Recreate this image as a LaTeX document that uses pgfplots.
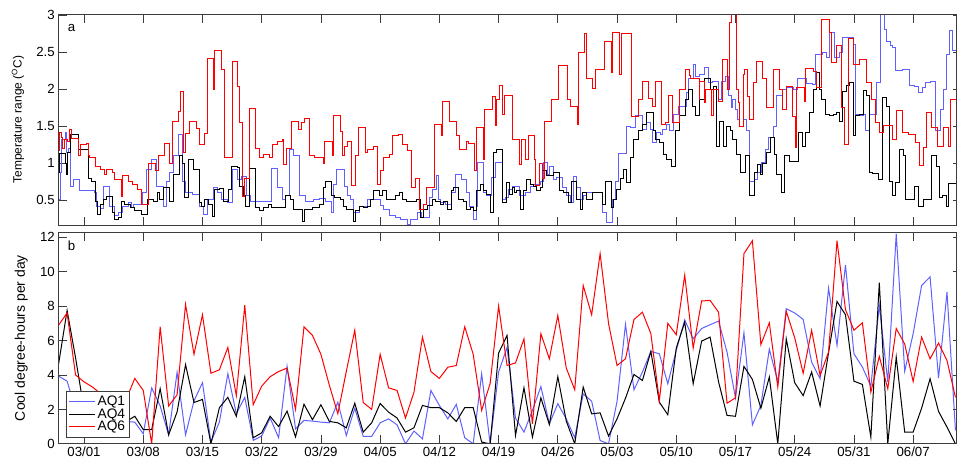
\documentclass[border=0pt]{standalone}
\usepackage{fontspec}
\setmainfont{Liberation Sans}
\usepackage{pgfplots}
\usepackage{pgfplotstable}
\pgfplotsset{compat=1.18}

\definecolor{aqblue}{RGB}{96,96,255}
\definecolor{aqred}{RGB}{255,0,0}
\definecolor{framegray}{RGB}{60,60,60}

% daily cool degree-hours (day 0 = 03/01)
\pgfplotstableread{
d    aqone aqfour aqsix
-3   3.93  4.65  6.9
-2   3.64  7.75  7.6
-1   2.0   5.0   4.0
0    1.5   2.0   3.6
1    1.0   1.0   3.3
2    1.2   1.5   2.9
3    0.8   1.2   1.5
4    1.0   1.0   2.4
5    1.3   1.3   2.6
6    1.26  1.6   3.8
7    0.58  0.83  3.1
8    3.25  0.83  0.0
9    2.2   3.2   6.8
10   0.52  0.52  2.2
11   4.15  1.85  2.85
12   0.52  4.6   8.1
13   2.5   2.4   5.2
14   3.55  2.58  7.5
15   0.1   0.0   4.1
16   1.26  2.1   4.3
17   4.07  2.7   5.6
18   1.75  1.6   2.8
19   2.7   3.9   8.05
20   0.2   0.35  2.27
21   0.45  0.64  3.35
22   1.5   1.6   3.9
23   0.35  1.0   4.2
24   4.5   1.9   4.4
25   0.87  0.4   2.0
26   1.36  2.3   6.8
27   1.32  1.4   6.3
28   1.26  2.27  5.2
29   1.22  1.3   3.4
30   2.42  1.22  1.75
31   0.48  0.93  4.2
32   2.07  2.36  6.6
33   0.43  0.68  2.4
34   0.43  1.22  2.0
35   1.22  2.34  5.2
36   1.45  1.84  3.25
37   1.1   1.5   3.1
38   0.0   0.68  1.5
39   0.74  0.93  3.0
40   0.29  2.23  6.2
41   3.1   2.1   4.2
42   2.23  2.1   3.8
43   1.45  1.8   4.45
44   2.29  1.3   4.55
45   0.35  2.1   6.8
46   0.0   2.1   5.2
47   4.07  0.1   1.94
48   0.0   0.0   3.5
49   4.17  5.27  8.0
50   5.6   6.3   4.55
51   1.5   0.48  4.7
52   0.68  3.26  6.1
53   1.94  0.39  1.16
54   3.33  2.67  6.4
55   1.16  1.12  4.94
56   2.33  3.9   7.46
57   1.45  1.32  4.4
58   0.35  0.0   3.14
59   2.9   3.3   9.2
60   2.48  1.74  7.5
61   0.19  1.8   11.05
62   0.0   0.45  6.98
63   2.46  1.45  4.55
64   6.94  2.65  4.94
65   3.14  4.03  7.22
66   4.17  3.68  7.65
67   5.37  5.37  6.4
68   5.23  2.42  2.5
69   3.49  1.69  7.0
70   5.43  5.56  6.34
71   7.2   7.07  9.8
72   6.1   3.49  5.56
73   6.7   5.97  8.3
74   6.92  6.2   8.33
75   7.13  3.6   7.65
76   5.33  1.65  2.36
77   2.67  1.6   2.67
78   6.45  4.5   11.05
79   1.1   3.74  11.8
80   2.23  2.07  5.76
81   5.5   3.88  7.03
82   3.6   0.0   3.3
83   7.85  6.1   7.7
84   7.6   3.55  6.16
85   7.23  2.8   4.1
86   4.75  4.17  6.6
87   3.78  2.2   3.97
88   9.05  5.3   5.33
89   5.72  8.27  11.8
90   10.4  7.5   7.8
91   5.23  3.64  6.6
92   4.46  3.45  7.03
93   3.35  0.39  3.0
94   8.04  9.36  5.08
95   3.6   0.0   3.2
96   12.2  5.04  6.7
97   4.22  0.68  5.8
98   6.4   0.68  3.62
99   9.2   2.07  6.2
100  9.7   3.78  4.94
101  3.82  1.88  5.85
102  8.82  0.97  4.84
103  0.78  0.0   2.7
}\cdh

\pgfplotsset{
  panel/.style={
    scale only axis, width=898bp, height=211.5bp,
    xmin=-3.04, xmax=103.1,
    xtick={0,7,...,98},
    tick align=inside,
    major tick length=9bp,
    xtick pos=both,
    ytick pos=left,
    axis line style={framegray, line width=0.8bp},
    tick style={framegray, line width=0.8bp},
    tick label style={font=\fontsize{13.3}{15}\selectfont},
    /pgf/number format/assume math mode=true,
    clip=true,
  },
  rightticks/.style={
    scale only axis, width=898bp, height=211.5bp,
    xmin=-3.04, xmax=103.1,
    xtick=\empty,
    tick align=inside,
    major tick length=3bp,
    ytick pos=right,
    yticklabels={},
    axis line style={framegray, line width=0.8bp},
    tick style={framegray, line width=0.8bp},
  },
  aqone/.style={aqblue, line width=1bp},
  aqfour/.style={black, line width=1bp},
  aqsix/.style={aqred, line width=1bp},
}

\begin{document}
\begin{tikzpicture}

% ---------- panel a: temperature range ----------
\begin{axis}[panel,
  at={(58.3bp,-14bp)}, anchor=north west,
  ymin=0.16, ymax=3.015,
  ytick={0.5,1,1.5,2,2.5,3},
  yticklabels={0.5,1,1.5,2,2.5,3},
  xticklabels={},
  ylabel={Temperature range (\textsuperscript{O}C)},
  ylabel style={at={(axis description cs:-0.0449,0.5)}, anchor=center,
                font=\fontsize{12}{14}\selectfont},
]
\addplot[aqone, const plot] coordinates {
(-3.05,0.51) (-2.83,0.87) (-2.64,1.32) (-2.24,1.41) (-2.05,1.14) (-1.85,1.2)
(-1.65,0.69) (-1.26,0.78) (-0.55,0.63) (1.18,0.6) (1.5,0.42) (1.89,0.39)
(2.36,0.69) (3.07,0.42) (3.66,0.29) (4.05,0.33) (4.57,0.42) (5.23,0.47)
(5.63,0.4) (5.9,0.45) (6.93,0.6) (7.4,0.92) (7.99,1.05) (8.58,0.69)
(9.37,0.42) (9.76,0.76) (10.15,0.87) (10.63,1.1) (11.14,1.39) (11.65,0.76)
(12.04,0.61) (12.83,0.58) (13.62,0.42) (14.09,0.31) (14.56,0.51) (15.35,0.67)
(15.74,0.6) (16.25,0.51) (16.92,0.47) (17.55,0.92) (18.1,0.78) (18.61,0.82)
(19.2,0.56) (19.68,0.49) (20.46,0.48) (22.16,0.93) (22.83,0.67) (23.46,0.51)
(23.85,0.56) (24.32,1.19) (24.79,1.1) (25.42,0.56) (26.21,0.49) (27.15,0.51)
(27.78,0.52) (28.57,0.49) (29.24,0.33) (29.52,0.72) (29.83,0.91) (30.82,0.69)
(31.09,0.56) (31.49,0.51) (31.88,0.33) (32.51,0.42) (33.45,0.51) (35.03,0.43)
(35.42,0.38) (36.05,0.29) (36.84,0.27) (37.39,0.24) (38.29,0.18) (38.57,0.24)
(39.47,0.33) (39.87,0.27) (40.85,0.54) (41.24,0.65) (41.64,0.83) (41.95,0.51)
(42.11,0.47) (42.74,0.45) (43.41,0.6) (43.92,0.85) (44.59,0.78) (45.18,0.6)
(45.57,0.42) (46.04,0.24) (46.36,0.42) (46.56,1.01) (47.23,0.6) (47.54,0.56)
(48.13,0.81) (48.64,1.01) (49.41,0.51) (49.8,0.54) (50.2,0.65) (50.61,0.69)
(51.47,0.56) (52.18,0.6) (52.74,0.69) (53.13,0.72) (53.92,0.76) (54.31,1.01)
(54.74,0.85) (55.02,0.96) (55.49,0.78) (55.88,0.81) (56.51,0.67) (57.06,0.56)
(57.46,0.47) (57.85,0.82) (58.24,0.67) (58.64,0.51) (59.03,0.56) (59.43,0.6)
(60.61,0.61) (61.24,0.33) (61.8,0.2) (62.42,0.51) (62.82,0.76) (63.21,1.13)
(64.15,1.5) (64.54,1.48) (65.17,1.64) (66.04,1.46) (66.5,1.55) (66.9,1.46)
(67.2,1.28) (67.7,1.41) (68.1,1.39) (68.4,1.46) (68.8,1.53) (69.2,1.44)
(69.7,1.66) (70.3,1.77) (71.2,1.95) (71.5,2.14) (72.0,2.34) (72.3,2.17)
(72.8,2.2) (73.3,2.29) (73.8,2.09) (74.3,2.11) (75.0,1.86) (75.4,2.11)
(75.8,2.17) (76.2,1.91) (76.5,1.75) (76.7,1.86) (77.0,1.73) (77.2,1.59)
(77.5,1.5) (77.9,1.59) (78.3,1.44) (78.7,0.75) (79.2,0.78) (79.6,0.87)
(80.1,1.01) (80.5,1.19) (80.9,1.35) (81.5,1.5) (81.9,1.91) (82.5,2.0)
(83.0,2.02) (83.8,2.0) (84.3,2.14) (85.4,2.08) (86.1,2.07) (86.5,2.47)
(87.3,2.5) (87.8,2.43) (88.1,2.77) (88.7,2.43) (89.3,2.5) (89.7,2.7)
(90.9,2.61) (91.2,1.66) (91.7,1.64) (92.1,1.66) (92.4,1.44) (92.8,1.66)
(93.7,2.09) (94.1,3.05) (94.6,2.81) (94.8,2.65) (95.3,2.59) (95.6,2.56)
(95.9,2.25) (96.7,2.26) (97.6,2.05) (98.2,2.04) (98.6,1.95) (99.1,2.02)
(99.5,2.09) (100.0,2.11) (100.6,1.44) (101.2,1.73) (101.6,2.0) (101.9,2.47)
(102.3,2.79) (102.7,2.52) (103.1,2.14)
};
\addplot[aqfour, const plot] coordinates {
(-3.05,0.87) (-2.91,1.13) (-2.24,1.0) (-2.05,0.85) (-1.93,1.14) (-1.65,1.39)
(-0.67,1.19) (-0.47,1.18) (0.51,0.8) (0.91,0.76) (1.3,0.49) (1.57,0.31)
(1.89,0.45) (2.36,0.51) (2.68,0.55) (3.38,0.33) (3.66,0.24) (4.05,0.27)
(4.45,0.49) (4.84,0.45) (5.51,0.4) (6.02,0.36) (6.81,0.31) (7.48,0.51)
(8.26,0.49) (8.66,0.6) (8.97,0.51) (9.37,0.67) (10.07,0.49) (10.55,0.85)
(11.26,1.1) (11.65,1.0) (11.92,0.54) (12.32,1.05) (12.99,0.92) (13.69,0.47)
(13.89,0.42) (14.29,0.51) (14.68,0.45) (15.15,0.28) (15.47,0.65) (16.06,0.66)
(16.53,0.49) (17.04,0.65) (17.43,0.96) (18.1,0.94) (18.42,0.69) (18.81,0.56)
(19.13,0.42) (19.6,0.93) (20.31,0.4) (20.7,0.36) (21.25,0.4) (21.76,0.45)
(22.16,0.4) (23.85,0.56) (24.4,0.51) (24.71,0.38) (25.82,0.21) (26.09,0.38)
(26.96,0.4) (27.78,0.45) (28.26,0.67) (28.57,0.76) (29.24,0.56) (29.64,0.54)
(30.3,0.51) (30.7,0.42) (31.02,0.38) (31.8,0.21) (32.1,0.36) (32.6,0.42)
(33.06,0.4) (33.45,0.42) (33.85,0.51) (34.24,0.63) (34.87,0.56) (35.26,0.63)
(35.73,0.51) (36.84,0.56) (37.23,0.61) (37.62,0.51) (38.17,0.49) (39.35,0.51)
(39.75,0.27) (40.14,0.38) (40.54,0.43) (41.17,0.51) (41.56,0.49) (42.11,0.44)
(42.5,0.49) (43.02,0.38) (43.41,0.63) (43.68,0.67) (44.31,0.51) (44.86,0.49)
(45.26,0.38) (45.65,0.4) (46.04,0.36) (46.44,0.63) (46.83,0.72) (47.23,0.63)
(47.62,0.58) (48.01,0.33) (48.41,1.14) (48.8,1.18) (49.51,0.47) (49.9,0.74)
(50.3,0.58) (50.61,0.67) (50.89,0.6) (51.16,0.63) (51.55,0.38) (51.95,0.63)
(52.34,0.78) (52.74,0.72) (53.13,0.69) (53.52,0.63) (53.92,0.67) (54.23,0.9)
(54.7,0.83) (55.49,0.88) (56.2,0.63) (56.67,0.6) (57.3,0.47) (57.58,0.76)
(58.24,0.51) (58.64,0.38) (58.95,0.6) (59.43,0.51) (60.06,0.6) (61.24,0.44)
(61.63,0.75) (62.3,0.4) (62.57,0.51) (62.89,0.65) (63.36,0.8) (63.75,0.92)
(64.15,0.74) (64.54,1.08) (64.94,1.32) (65.56,1.44) (66.04,1.53) (66.43,1.68)
(67.3,1.44) (67.6,1.32) (68.0,1.28) (68.5,1.12) (68.8,1.05) (69.4,0.96)
(69.9,1.44) (70.4,1.64) (71.1,1.86) (71.5,2.0) (71.9,1.77) (72.3,1.64)
(72.8,1.86) (73.3,2.14) (74.0,2.0) (74.4,2.04) (74.8,1.23) (75.1,1.57)
(75.6,1.23) (75.9,1.5) (76.4,1.44) (76.7,1.32) (77.1,1.12) (77.6,0.87)
(78.2,1.1) (78.6,0.56) (79.2,0.87) (79.6,0.99) (79.9,0.85) (80.2,1.0)
(80.7,1.14) (81.1,1.35) (81.6,1.12) (81.9,0.85) (82.4,0.6) (82.8,1.1)
(83.4,1.03) (84.5,1.41) (84.9,1.23) (85.3,1.41) (85.8,1.68) (86.2,2.0)
(86.6,2.23) (86.9,2.0) (87.2,1.86) (87.6,1.66) (88.1,1.64) (88.6,1.66)
(88.9,1.68) (89.3,1.57) (89.7,1.97) (90.1,2.05) (90.5,2.09) (90.9,1.37)
(91.2,1.64) (91.7,1.66) (92.1,1.98) (92.5,1.91) (92.8,0.87) (93.2,0.86)
(93.9,0.78) (94.4,1.89) (94.9,1.77) (95.2,0.76) (95.6,0.56) (95.9,0.74)
(96.4,1.19) (96.8,1.1) (97.1,0.51) (98.2,0.69) (98.6,0.41) (99.2,0.51)
(100.2,1.1) (100.7,0.96) (101.1,0.54) (101.5,0.56) (101.9,0.42) (102.2,0.73)
(103.1,0.73)
};
\addplot[aqsix, const plot] coordinates {
(-3.05,1.17) (-2.95,1.41) (-2.7,1.35) (-2.5,1.2) (-2.3,1.32) (-2.0,1.3)
(-1.7,1.45) (-1.45,1.33) (-0.6,1.1) (-0.45,1.25) (0.3,1.27) (0.5,1.1)
(0.7,1.08) (1.4,0.95) (1.9,0.92) (2.4,0.85) (2.7,0.92) (3.4,0.88)
(3.6,0.78) (4.4,0.55) (4.6,0.83) (5.3,0.75) (5.7,0.72) (6.3,0.65)
(6.8,0.45) (7.6,1.0) (8.4,0.9) (8.8,1.1) (9.5,1.27) (10.1,1.0)
(10.5,1.57) (11.2,1.7) (11.4,1.97) (11.7,1.15) (12.0,1.4) (12.5,1.57)
(13.3,1.47) (13.6,1.25) (14.2,1.4) (14.6,2.42) (15.3,2.0) (15.45,2.52)
(16.2,2.27) (16.6,1.08) (17.5,2.38) (18.1,2.03) (18.4,1.55) (18.75,0.55)
(18.95,0.8) (19.5,1.74) (20.3,1.2) (20.7,1.08) (21.2,1.12) (21.9,1.08)
(22.3,1.25) (22.9,1.3) (23.5,1.32) (23.6,0.98) (23.9,1.2) (24.5,1.57)
(25.3,1.45) (25.7,1.55) (26.1,1.6) (26.6,1.1) (27.2,1.08) (28.3,1.0)
(28.45,1.29) (29.32,1.1) (29.44,1.65) (30.3,1.43) (30.6,1.1) (30.8,1.23)
(31.2,1.29) (31.6,0.7) (32.1,1.1) (32.5,1.48) (33.25,1.14) (33.45,1.19)
(34.26,1.23) (34.65,0.71) (35.0,0.9) (35.34,1.08) (36.1,1.12) (36.5,1.37)
(37.2,1.39) (37.6,1.25) (38.2,1.17) (38.7,0.67) (39.2,0.79) (39.6,0.37)
(40.1,0.44) (40.5,0.67) (41.4,1.53) (42.2,1.37) (42.4,1.83) (43.2,1.57)
(44.0,1.37) (44.4,1.19) (45.2,1.29) (45.5,1.27) (46.2,0.9) (46.4,1.48)
(47.2,1.05) (47.35,1.73) (48.25,1.9) (48.6,1.51) (48.7,1.86) (49.1,2.05)
(49.5,1.66) (49.7,1.92) (50.6,1.32) (51.5,0.99) (51.7,1.32) (52.2,1.05)
(52.5,1.37) (53.2,1.05) (53.4,0.7) (53.8,1.0) (54.15,0.8) (54.4,1.56)
(55.2,1.86) (56.1,2.32) (57.2,1.86) (57.5,1.77) (58.3,1.53) (58.4,2.5)
(59.15,2.75) (59.4,2.15) (60.1,2.01) (60.45,2.27) (61.5,2.65) (62.3,2.22)
(62.5,2.77) (63.3,2.2) (63.5,2.75) (64.7,1.63) (65.55,1.86) (66.04,2.1)
(66.7,1.87) (67.2,1.77) (67.5,2.1) (68.2,1.53) (68.7,1.55) (69.1,1.92)
(69.6,1.55) (70.4,2.0) (71.1,2.27) (71.6,2.18) (71.7,2.14) (72.7,1.86)
(72.8,2.11) (73.3,1.82) (73.5,2.0) (74.2,1.64) (74.4,2.0) (75.0,1.84)
(75.5,2.4) (76.1,2.0) (76.3,2.9) (76.5,3.1) (77.1,2.0) (77.3,1.82)
(77.5,1.5) (77.9,2.2) (78.05,2.26) (78.4,1.9) (78.6,1.59) (79.1,2.09)
(79.5,2.37) (80.2,2.14) (80.7,1.75) (81.5,2.26) (82.2,2.0) (82.6,1.73)
(83.0,2.03) (83.7,1.63) (84.1,1.21) (84.2,2.02) (85.2,1.84) (85.3,2.28)
(86.2,2.24) (86.6,2.02) (87.2,2.94) (88.1,2.77) (88.4,2.36) (88.9,2.59)
(89.5,1.75) (89.9,1.26) (90.3,2.68) (91.0,2.34) (91.6,2.4) (92.5,2.09)
(93.1,1.86) (93.6,1.55) (94.0,1.41) (94.5,1.51) (95.6,1.32) (96.0,1.71)
(96.7,1.41) (97.5,1.39) (98.3,1.28) (98.8,0.97) (99.2,1.21) (99.6,1.69)
(100.2,1.48) (100.9,1.23) (101.6,1.48) (102.2,1.23) (102.4,1.86) (103.1,1.86)
};
\node[font=\fontsize{13.3}{15}\selectfont] at (rel axis cs:0.0149,0.934) {a};
\end{axis}
\begin{axis}[rightticks, at={(58.3bp,-14bp)}, anchor=north west,
  ymin=0.16, ymax=3.015, ytick={0.5,1,1.5,2,2.5,3}]
\end{axis}

% ---------- panel b: cool degree-hours ----------
\begin{axis}[panel,
  at={(58.3bp,-232.3bp)}, anchor=north west,
  ymin=0, ymax=12.29,
  ytick={0,2,4,6,8,10,12},
  yticklabels={0,2,4,6,8,10,12},
  xticklabels={03/01,03/08,03/15,03/22,03/29,04/05,04/12,04/19,04/26,05/03,05/10,05/17,05/24,05/31,06/07},
  ylabel={Cool degree-hours per day},
  ylabel style={at={(axis description cs:-0.0412,0.5)}, anchor=center,
                font=\fontsize{14}{16}\selectfont},
  legend style={at={(axis description cs:0.0088,0.028)}, anchor=south west,
    draw=framegray, line width=0.8bp, fill=white,
    inner xsep=2bp, inner ysep=3bp, row sep=-2.5bp,
    font=\fontsize{13.8}{13.8}\selectfont},
  legend cell align=left,
  legend image code/.code={\draw[#1, line width=1bp] (0bp,0bp) -- (26bp,0bp);},
]
\addplot[aqone] table[x=d, y=aqone] {\cdh};
\addlegendentry{AQ1}
\addplot[aqfour] table[x=d, y=aqfour] {\cdh};
\addlegendentry{AQ4}
\addplot[aqsix] table[x=d, y=aqsix] {\cdh};
\addlegendentry{AQ6}
\node[font=\fontsize{13.3}{15}\selectfont] at (rel axis cs:0.0149,0.934) {b};
\end{axis}
\begin{axis}[rightticks, at={(58.3bp,-232.3bp)}, anchor=north west,
  ymin=0, ymax=12.29, ytick={0,2,4,6,8,10,12}]
\end{axis}

\pgfresetboundingbox
\path[use as bounding box] (0bp,0bp) rectangle (957bp,-462bp);
\end{tikzpicture}
\end{document}
